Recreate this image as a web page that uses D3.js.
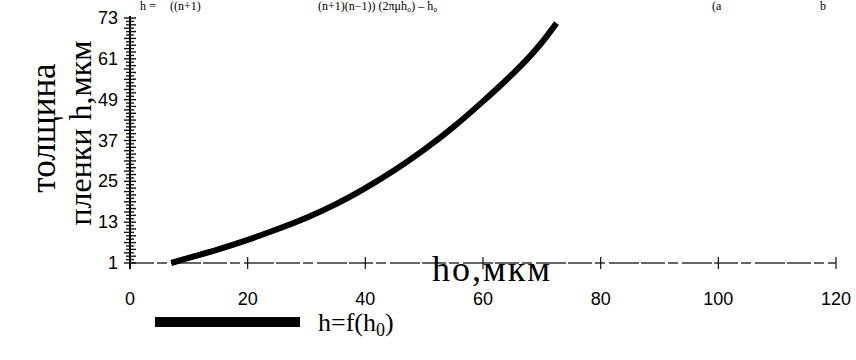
<!DOCTYPE html>
<html>
<head>
<meta charset="utf-8">
<script src="https://cdn.jsdelivr.net/npm/d3@7"></script>
<style>
  body { margin: 0; background: #fff; }
  svg { display: block; }
</style>
</head>
<body>
<div id="chart"></div>
<script>
// values
var h0 = [7, 10, 15, 20, 25, 30, 35, 40, 45, 50, 55, 60, 65, 68, 70, 72.5];
var h  = [1, 2.5, 5, 7.8, 10.9, 14.3, 18.3, 23, 28.3, 34.3, 41, 48.5, 56.5, 61.8, 65.8, 71.5];
var xTicks = [0, 20, 40, 60, 80, 100, 120];
var yTicks = [1, 13, 25, 37, 49, 61, 73];

var width = 856, height = 360;

var svg = d3.select("#chart").append("svg")
    .attr("width", width)
    .attr("height", height);

var x = d3.scaleLinear().domain([0, 120]).range([130, 836]);
var y = d3.scaleLinear().domain([1, 73]).range([263, 18]);

// formula line at the top (cut off in the scan, kept small here)
var topBits = [
    {t: "h =", x: 140}, {t: "((n+1)", x: 170},
    {t: "(n+1)(n−1)) (2πμh₀)  – h₀", x: 318}, {t: "(a", x: 712}, {t: "b", x: 820}
];
svg.selectAll("text.top").data(topBits).enter().append("text")
    .attr("class", "top")
    .attr("x", function(d) { return d.x; })
    .attr("y", 10)
    .style("font-family", "Liberation Serif")
    .style("font-size", "12px")
    .text(function(d) { return d.t; });

// x axis (scanned, broken line)
svg.append("line")
    .attr("x1", x(0)).attr("x2", x(120))
    .attr("y1", y(1)).attr("y2", y(1))
    .attr("stroke", "#333")
    .attr("stroke-width", 1.3)
    .attr("stroke-dasharray", "24,3,10,4,30,2");

svg.selectAll("line.xt").data(xTicks).enter().append("line")
    .attr("class", "xt")
    .attr("x1", function(d) { return x(d); })
    .attr("x2", function(d) { return x(d); })
    .attr("y1", y(1) - 6).attr("y2", y(1) + 6)
    .attr("stroke", "#111")
    .attr("stroke-width", 1.2);

svg.selectAll("text.xl").data(xTicks).enter().append("text")
    .attr("class", "xl")
    .attr("x", function(d) { return x(d); })
    .attr("y", 305)
    .attr("text-anchor", "middle")
    .style("font-family", "Liberation Sans")
    .style("font-size", "18px")
    .text(function(d) { return d; });

// y axis with dense minor ticks
svg.append("line")
    .attr("x1", x(0)).attr("x2", x(0))
    .attr("y1", y(73) - 2).attr("y2", y(1) + 6)
    .attr("stroke", "#000")
    .attr("stroke-width", 2);

svg.selectAll("line.ym").data(d3.range(1, 73.5, 1)).enter().append("line")
    .attr("class", "ym")
    .attr("x1", function(d, i) { return x(0) - (i % 3 === 0 ? 6 : 4); })
    .attr("x2", function(d, i) { return x(0) + (i % 2 === 0 ? 6 : 4); })
    .attr("y1", function(d) { return y(d); })
    .attr("y2", function(d) { return y(d); })
    .attr("stroke", "#111")
    .attr("stroke-width", 1.4);

svg.selectAll("text.yl").data(yTicks).enter().append("text")
    .attr("class", "yl")
    .attr("x", 118)
    .attr("y", function(d) { return y(d) + 6; })
    .attr("text-anchor", "end")
    .style("font-family", "Liberation Sans")
    .style("font-size", "18px")
    .text(function(d) { return d; });

// axis titles
svg.append("text")
    .attr("transform", "translate(55,128) rotate(-90)")
    .attr("text-anchor", "middle")
    .style("font-family", "Liberation Serif")
    .style("font-size", "35px")
    .text("толщина");

svg.append("text")
    .attr("transform", "translate(91,133) rotate(-90)")
    .attr("text-anchor", "middle")
    .style("font-family", "Liberation Serif")
    .style("font-size", "32px")
    .text("пленки h,мкм");

svg.append("text")
    .attr("x", 432)
    .attr("y", 281)
    .style("font-family", "Liberation Serif")
    .style("font-size", "36px")
    .style("letter-spacing", "2px")
    .text("hо,мкм");

// the curve
var pts = h0.map(function(v, i) { return [v, h[i]]; });
var line = d3.line()
    .x(function(d) { return x(d[0]); })
    .y(function(d) { return y(d[1]); })
    .curve(d3.curveCatmullRom);

svg.append("path")
    .datum(pts)
    .attr("d", line)
    .attr("fill", "none")
    .attr("stroke", "#000")
    .attr("stroke-width", 6);

// legend
svg.append("line")
    .attr("x1", 155).attr("x2", 300)
    .attr("y1", 322).attr("y2", 322)
    .attr("stroke", "#000")
    .attr("stroke-width", 10);

var lg = svg.append("text")
    .attr("x", 318)
    .attr("y", 331)
    .style("font-family", "Liberation Serif")
    .style("font-size", "26px");
lg.append("tspan").text("h=f(h");
lg.append("tspan").attr("dy", 5).style("font-size", "18px").text("0");
lg.append("tspan").attr("dy", -5).text(")");
</script>
</body>
</html>
